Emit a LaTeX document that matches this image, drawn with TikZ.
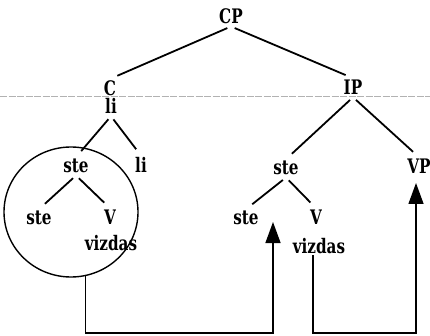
\documentclass[tikz,border=0pt]{standalone}
\usepackage{fontspec}
\newfontfamily\treefont{DejaVu Serif}[FakeStretch=0.76]
\usepackage{tikz}
\usetikzlibrary{calc, arrows.meta, shapes.geometric}
\tikzset{every node/.append style={font=\treefont\bfseries\fontsize{20}{23}\selectfont, anchor=base, inner sep=2pt}}
\tikzset{branch/.style={line width=1.8pt, shorten <=4pt, shorten >=8pt}}
\tikzset{move/.style={line width=1.4pt, -{Triangle[length=21pt, width=15pt]}}}

\begin{document}
\begin{tikzpicture}[x=1pt, y=-1pt]
    \useasboundingbox (0,0) rectangle (430,336);
    % scan line
    \draw[gray!60, very thin, dash pattern=on 7pt off 1.5pt] (0,96) -- (430,96);
    % top of the tree
    \node (cp) at (231,24) {CP};
    \node (c) at (110,96) {C};
    \node (cli) at (111,114) {li};
    \node (ip) at (353,95) {IP};
    \draw[branch] (cp.south) -- (c.north);
    \draw[branch] (cp.south) -- (ip.north);
    % the moved cluster, ringed
    \node[draw, ellipse, line width=1.4pt, anchor=center, minimum width=134pt, minimum height=130pt, inner sep=0pt] (ring) at (71,212) {};
    \node (s1) at (76,173) {ste};
    \node (li) at (141,173) {li};
    \node (s2) at (39,225) {ste};
    \node (v1) at (110,225) {V};
    \node (vz1) at (111,251) {vizdas};
    \draw[branch] (cli.south) -- (s1.north);
    \draw[branch] (cli.south) -- (li.north);
    \draw[branch] (s1.south) -- (s2.north);
    \draw[branch] (s1.south) -- (v1.north);
    % the copy under IP
    \node (s3) at (286,175) {ste};
    \node (vp) at (419,174) {VP};
    \node (s4) at (246,225) {ste};
    \node (v2) at (316,225) {V};
    \node (vz2) at (319,253) {vizdas};
    \draw[branch] (ip.south) -- (s3.north);
    \draw[branch] (ip.south) -- (vp.north);
    \draw[branch] (s3.south) -- (s4.north);
    \draw[branch] (s3.south) -- (v2.north);
    % movement arrows
    \coordinate (t1) at (273,222);
    \coordinate (t2) at (416,183);
    \draw[move] (ring.-77) -- (ring.-77 |- 0,333) -| (t1);
    \draw[move] ([xshift=-6pt]vz2.south) -- ([xshift=-6pt]vz2.south |- 0,333) -| (t2);
\end{tikzpicture}
\end{document}
